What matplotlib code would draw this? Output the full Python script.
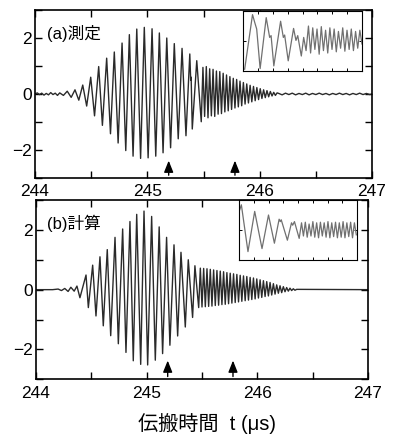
import numpy as np
import matplotlib
matplotlib.use('Agg')
import matplotlib.pyplot as plt
from matplotlib.ticker import MultipleLocator, NullFormatter

plt.rcParams['font.family'] = ['Liberation Sans', 'Noto Sans CJK JP']

# (a) 測定 : extremos de la forma de onda
t_a = [244.00, 244.02, 244.04, 244.06, 244.08, 244.10, 244.12, 244.14, 244.16, 244.18, 244.20, 244.22,
       244.253, 244.287, 244.322, 244.356, 244.39, 244.425, 244.46, 244.496, 244.53, 244.567,
       244.60, 244.638, 244.672, 244.706, 244.74, 244.775, 244.808, 244.840, 244.873, 244.906,
       244.94, 244.973, 245.007, 245.042, 245.075, 245.107, 245.14, 245.173, 245.207, 245.240,
       245.275, 245.309, 245.344, 245.378, 245.386, 245.39, 245.40, 245.44, 245.48,
       245.495, 245.51, 245.525, 245.54, 245.555, 245.57, 245.585, 245.60, 245.615, 245.63,
       245.645, 245.66, 245.675, 245.69, 245.705, 245.72, 245.735, 245.75, 245.765, 245.78,
       245.795, 245.81, 245.825, 245.84, 245.855, 245.87, 245.885, 245.90, 245.915, 245.93,
       245.945, 245.96, 245.975, 245.99, 246.005, 246.02, 246.035, 246.05, 246.065, 246.08,
       246.095, 246.11, 246.125, 246.14, 246.155,
       246.17, 246.20, 246.23, 246.26, 246.29, 246.32, 246.35, 246.38, 246.41, 246.44, 246.47,
       246.50, 246.53, 246.56, 246.59, 246.62, 246.65, 246.68, 246.71, 246.74, 246.77, 246.80,
       246.83, 246.86, 246.89, 246.92, 246.95, 246.98, 247.00]
v_a = [0.00, 0.04, -0.02, 0.03, -0.04, 0.02, -0.03, 0.05, -0.02, 0.03, -0.05, 0.04,
       -0.05, 0.10, -0.12, 0.15, -0.22, 0.32, -0.43, 0.60, -0.78, 0.98,
       -1.12, 1.28, -1.42, 1.50, -1.75, 1.82, -2.02, 2.12, -2.22, 2.32,
       -2.30, 2.38, -2.28, 2.33, -2.22, 2.18, -2.10, 2.00, -1.92, 1.80,
       -1.60, 1.63, -1.49, 1.43, 0.50, 0.60, -1.25, 1.19, -0.99,
       0.95, -0.80, 0.98, -0.85, 0.90, -0.78, 0.88, -0.80, 0.82, -0.72,
       0.80, -0.70, 0.74, -0.64, 0.68, -0.60, 0.62, -0.55, 0.56, -0.50,
       0.52, -0.46, 0.46, -0.42, 0.41, -0.36, 0.36, -0.32, 0.31, -0.28,
       0.27, -0.24, 0.23, -0.20, 0.19, -0.16, 0.15, -0.13, 0.12, -0.10,
       0.09, -0.07, 0.06, -0.05, 0.04,
       0.02, -0.03, 0.03, -0.02, 0.03, -0.03, 0.02, -0.02, 0.03, -0.03, 0.02,
       -0.02, 0.03, -0.02, 0.02, -0.03, 0.02, -0.02, 0.03, -0.02, 0.02, -0.03,
       0.02, -0.02, 0.03, -0.02, 0.02, -0.02, 0.00]

# (b) 計算
t_b = [244.00, 244.15, 244.20, 244.23, 244.26, 244.29, 244.315, 244.345, 244.37,
       244.397, 244.452, 244.473, 244.512, 244.542, 244.578, 244.608, 244.644, 244.675,
       244.714, 244.744, 244.783, 244.813, 244.849, 244.879, 244.91, 244.946, 244.976,
       245.009, 245.045, 245.078, 245.113, 245.144, 245.18, 245.21, 245.247, 245.28,
       245.31, 245.349, 245.376, 245.415, 245.436, 245.47,
       245.485, 245.500, 245.515, 245.530, 245.545, 245.560, 245.575, 245.590, 245.605,
       245.620, 245.635, 245.650, 245.665, 245.680, 245.695, 245.710, 245.725, 245.740,
       245.755, 245.770, 245.785, 245.800, 245.815, 245.830, 245.845, 245.860, 245.875,
       245.890, 245.905, 245.920, 245.935, 245.950, 245.965, 245.980, 245.995, 246.010,
       246.025, 246.040, 246.055, 246.070, 246.085, 246.100, 246.115, 246.130, 246.145,
       246.160, 246.175, 246.190, 246.205, 246.220, 246.235, 246.250, 246.265, 246.280,
       246.295, 246.310, 246.325, 246.340, 246.355, 247.00]
v_b = [0.00, 0.00, 0.02, -0.03, 0.04, -0.06, 0.08, -0.05, 0.12,
       -0.27, 0.49, -0.60, 0.82, -0.88, 1.10, -1.21, 1.34, -1.54,
       1.75, -1.81, 2.03, -2.10, 2.28, -2.38, 2.52, -2.50, 2.63,
       -2.52, 2.45, -2.36, 2.10, -2.14, 1.75, -1.86, 1.50, -1.55,
       1.25, -1.25, 1.00, -0.93, 0.80, -0.60,
       0.72, -0.58, 0.71, -0.57, 0.70, -0.56, 0.68, -0.55, 0.66,
       -0.53, 0.64, -0.52, 0.62, -0.50, 0.60, -0.49, 0.57, -0.47,
       0.55, -0.45, 0.53, -0.43, 0.51, -0.41, 0.48, -0.39, 0.46,
       -0.37, 0.44, -0.35, 0.41, -0.33, 0.39, -0.31, 0.36, -0.28,
       0.33, -0.26, 0.30, -0.23, 0.27, -0.21, 0.24, -0.18, 0.20,
       -0.15, 0.16, -0.12, 0.13, -0.10, 0.10, -0.07, 0.07, -0.05,
       0.05, -0.03, 0.03, -0.02, 0.01, 0.00]

# recuadros (coordenadas normalizadas 0-1)
u_a = [0.014, 0.08, 0.10, 0.115, 0.144, 0.195, 0.224, 0.236, 0.259, 0.316, 0.339, 0.35,
       0.38, 0.425, 0.445, 0.46, 0.49, 0.51, 0.53, 0.55,
       0.568, 0.586, 0.604, 0.622, 0.640, 0.658, 0.676, 0.694, 0.712, 0.730, 0.748, 0.766,
       0.784, 0.802, 0.820, 0.838, 0.856, 0.874, 0.892, 0.910, 0.928, 0.946, 0.964, 0.982, 1.0]
w_a = [0.03, 0.94, 0.80, 0.70, 0.04, 0.89, 0.56, 0.59, 0.085, 0.83, 0.56, 0.60,
       0.17, 0.71, 0.51, 0.59, 0.25, 0.56, 0.34, 0.75,
       0.30, 0.72, 0.36, 0.70, 0.28, 0.74, 0.34, 0.68, 0.30, 0.72, 0.36, 0.70,
       0.32, 0.66, 0.38, 0.72, 0.33, 0.68, 0.36, 0.70, 0.34, 0.66, 0.38, 0.68, 0.45]
u_b = [0.0, 0.02, 0.076, 0.133, 0.195, 0.25, 0.30, 0.34, 0.35, 0.358, 0.41, 0.445, 0.455,
       0.47, 0.51, 0.530, 0.546, 0.562, 0.578, 0.594, 0.610, 0.626, 0.642, 0.658, 0.674,
       0.690, 0.706, 0.722, 0.738, 0.754, 0.770, 0.786, 0.802, 0.818, 0.834, 0.850, 0.866,
       0.882, 0.898, 0.914, 0.930, 0.946, 0.962, 0.978, 0.994]
w_b = [0.80, 0.92, 0.14, 0.81, 0.19, 0.75, 0.28, 0.68, 0.64, 0.67, 0.33, 0.62, 0.58,
       0.64, 0.36, 0.62, 0.40, 0.63, 0.38, 0.60, 0.40, 0.64, 0.38, 0.62, 0.37,
       0.63, 0.40, 0.62, 0.38, 0.64, 0.37, 0.62, 0.39, 0.63, 0.37, 0.62, 0.38,
       0.64, 0.37, 0.62, 0.39, 0.63, 0.37, 0.62, 0.42]

flechas_t = [245.19, 245.78]


def estilo_ejes(ax):
    ax.set_xlim(244, 247)
    ax.set_ylim(-3, 3)
    ax.xaxis.set_major_locator(MultipleLocator(1))
    ax.xaxis.set_minor_locator(MultipleLocator(0.5))
    ax.yaxis.set_major_locator(MultipleLocator(2))
    ax.yaxis.set_minor_locator(MultipleLocator(1))
    ax.tick_params(which='both', direction='in', top=True, right=True, labelsize=12.5)
    ax.tick_params(which='major', length=5, width=1)
    ax.tick_params(which='minor', length=5, width=1)
    ax.tick_params(axis='x', pad=4.5)
    ax.tick_params(axis='y', pad=2)
    for s in ax.spines.values():
        s.set_linewidth(1.2)


def recuadro(fig, rect, u, w):
    ax = fig.add_axes(rect)
    ax.plot(u, w, color='#707070', lw=0.9)
    ax.set_xlim(0, 1)
    ax.set_ylim(0, 1)
    ax.xaxis.set_major_locator(MultipleLocator(0.125))
    ax.yaxis.set_major_locator(MultipleLocator(0.5))
    ax.xaxis.set_major_formatter(NullFormatter())
    ax.yaxis.set_major_formatter(NullFormatter())
    ax.tick_params(direction='in', top=True, right=True, length=2.5, width=0.7)
    for s in ax.spines.values():
        s.set_linewidth(0.8)


fig = plt.figure(figsize=(4, 4.43), dpi=100)

ax1 = fig.add_axes([0.0875, 0.5982, 0.8425, 0.3792])
ax1.plot(t_a, v_a, color='#2a2a2a', lw=1.0)
estilo_ejes(ax1)
ax1.text(0.036, 0.863, '(a)測定', transform=ax1.transAxes, fontsize=12, va='center')

ax2 = fig.add_axes([0.09, 0.1438, 0.83, 0.4047])
ax2.plot(t_b, v_b, color='#2a2a2a', lw=1.0)
estilo_ejes(ax2)
ax2.text(0.033, 0.869, '(b)計算', transform=ax2.transAxes, fontsize=12, va='center')

for ax in (ax1, ax2):
    for tf in flechas_t:
        ax.annotate('', xy=(tf, -2.28), xytext=(tf, -3.0),
                    arrowprops=dict(arrowstyle='-|>,head_length=0.7,head_width=0.28',
                                    color='k', lw=1.0, mutation_scale=10))

recuadro(fig, [0.6075, 0.8397, 0.2975, 0.1354], u_a, w_a)
recuadro(fig, [0.5975, 0.4131, 0.295, 0.1354], u_b, w_b)

fig.text(0.5175, 0.045, '伝搬時間  t (μs)', fontsize=14.5, ha='center', va='center')

plt.savefig('out.png', dpi=100)
